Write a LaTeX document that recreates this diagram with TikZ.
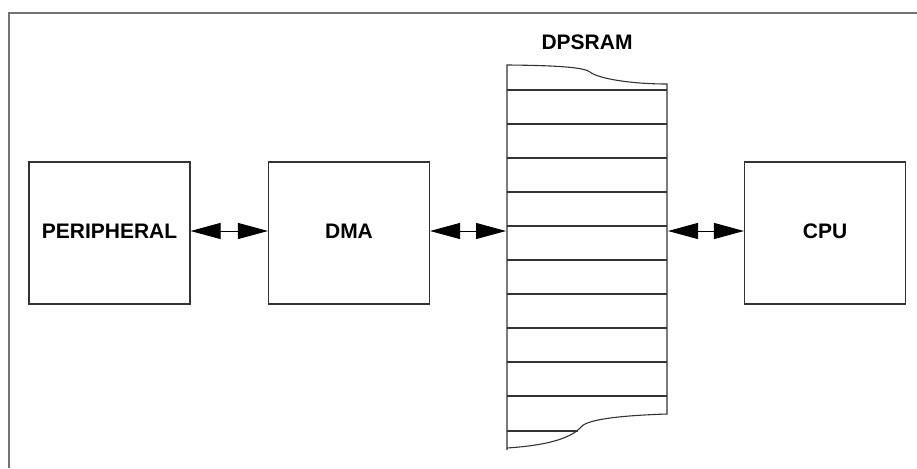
\documentclass[tikz,border=0pt]{standalone}
\usepackage{fontspec}
\setmainfont{Liberation Sans}
\usetikzlibrary{arrows.meta}
\begin{document}
\begin{tikzpicture}[x=1pt,y=-1pt,
  blk/.style={draw=black!80,line width=1.1pt,minimum width=161pt,minimum height=142pt,inner sep=0pt,
    font=\fontsize{21}{24}\bfseries\selectfont,text height=15pt,text depth=5pt},
  biarrow/.style={line width=1pt,{Triangle[length=30pt,width=16pt]}-{Triangle[length=30pt,width=16pt]}},
  ramline/.style={draw=black!80,line width=1.1pt},
  lbl/.style={font=\fontsize{21}{24}\bfseries\selectfont,inner sep=0pt}]
\useasboundingbox (0,0) rectangle (917,468);
% frame
\draw[black!55,line width=1.6pt] (9,468) -- (9,13) -- (917,13);
% blocks
\node[blk] (per) at (109.5,233) {PERIPHERAL};
\node[blk] (dma) at (349,233) {DMA};
\node[blk] (cpu) at (825,233) {CPU};
% DPSRAM
\node[lbl] (ramlabel) at (587,42.5) {DPSRAM};
\draw[ramline] (507,450) -- (507,65) .. controls (560,65.5) and (584,67.5) .. (590,72)
  .. controls (597,78) and (628,84) .. (667,84) -- (667,414)
  .. controls (622,415.5) and (590,419) .. (582,426)
  .. controls (575,434) and (560,444.5) .. (507,448);
\foreach \yy in {90,124,158,192,226,260,294,328,362,396}
  \draw[ramline] (507,\yy) -- (667,\yy);
\draw[ramline] (507,431) -- (578,431);
\coordinate (ramW) at (506,231);
\coordinate (ramE) at (668,231);
% connectors
\draw[biarrow] ([yshift=2pt]per.east) -- ([yshift=2pt]dma.west);
\draw[biarrow] ([yshift=2pt]dma.east) -- (ramW);
\draw[biarrow] (ramE) -- ([yshift=2pt]cpu.west);
\end{tikzpicture}
\end{document}
